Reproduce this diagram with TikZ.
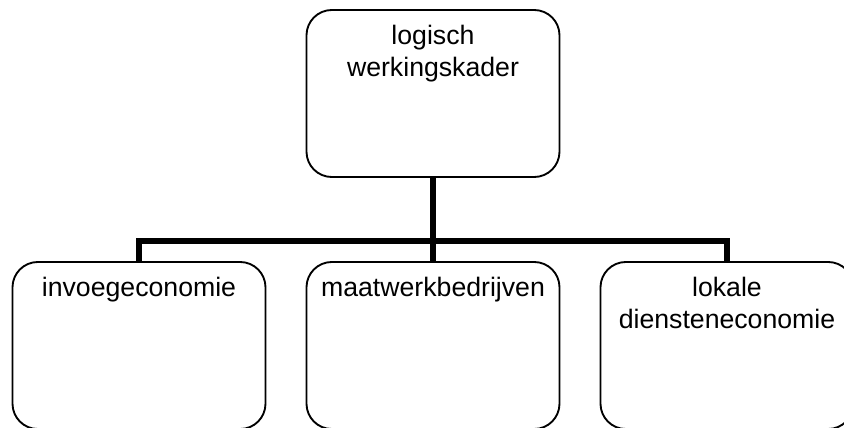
\documentclass[tikz,border=0pt]{standalone}
\usepackage{fontspec}
\setmainfont{Liberation Sans}
\usepackage{tikz}
\usetikzlibrary{shapes,arrows,positioning,calc}

\newcommand{\boxtext}[1]{\parbox[t][102pt][t]{180pt}{\centering #1}}

\begin{document}
\begin{tikzpicture}[auto,
  level 1/.style={sibling distance=220.5pt},
  level distance=189pt,
  box/.style={draw,rounded corners=19pt,line width=1.4pt,minimum width=189.75pt,minimum height=125.25pt,inner xsep=0pt,inner ysep=11.6pt,font=\fontsize{20}{24}\selectfont},
  edge from parent/.style={draw,line width=4.5pt},
  edge from parent path={(\tikzparentnode.south) -- +(0,-47.25pt) -| (\tikzchildnode.north)}]
  \useasboundingbox (0,0) rectangle (633pt,-321pt);
  \node [box] (kader) at (324.75pt,-70.125pt) {\boxtext{logisch\\werkingskader}}
    child {
      node [box] (invoeg) {\boxtext{invoegeconomie}}
    }
    child {
      node [box] (maatwerk) {\boxtext{maatwerkbedrijven}}
    }
    child {
      node [box] (lokaal) {\boxtext{lokale\\diensteneconomie}}
    };
\end{tikzpicture}
\end{document}
